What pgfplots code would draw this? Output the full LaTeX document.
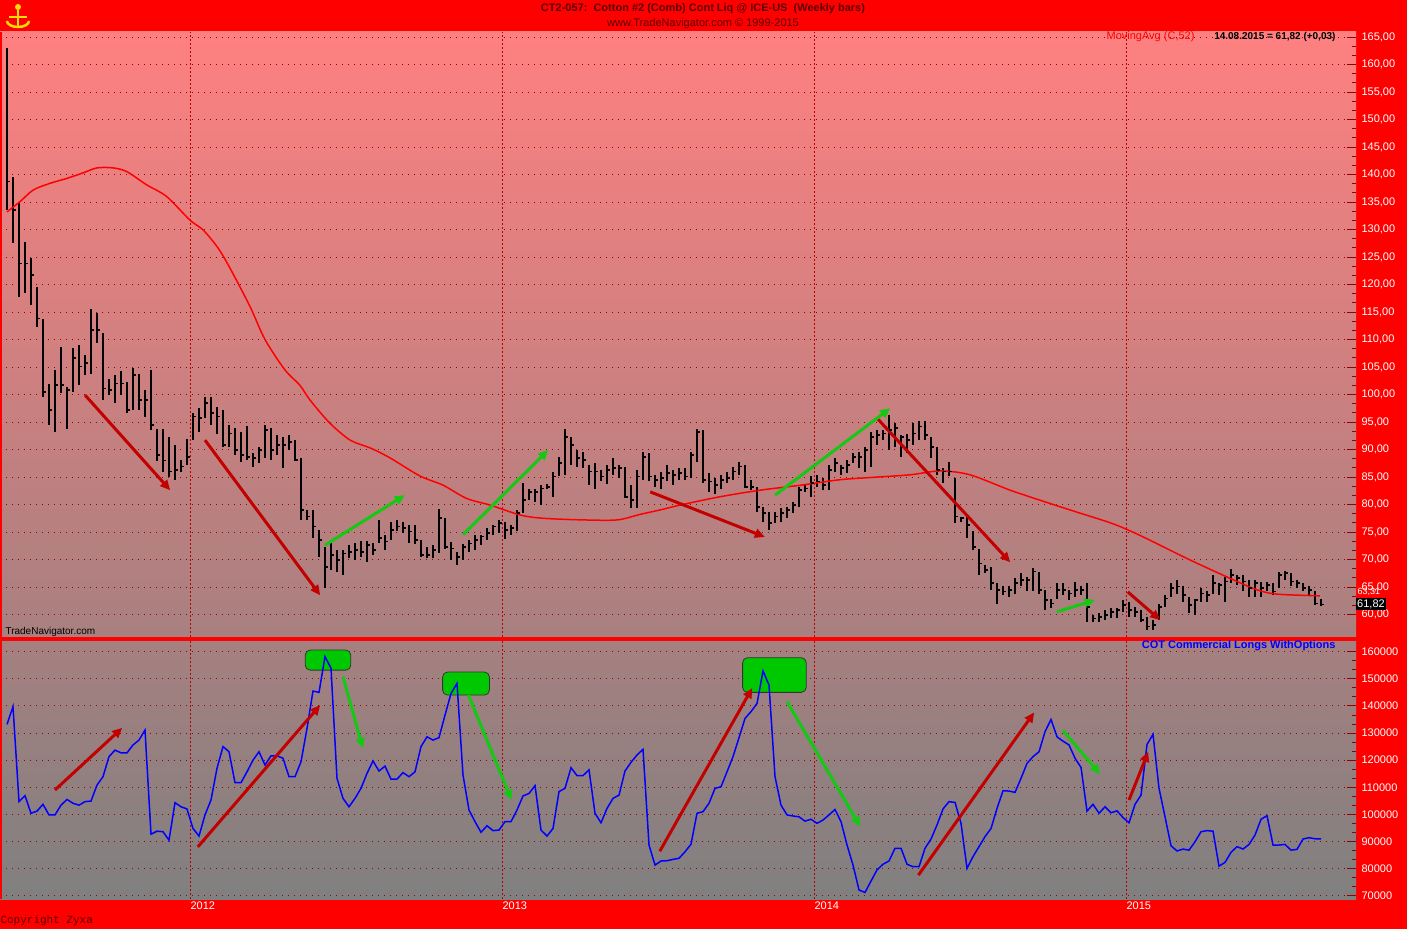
\documentclass[border=0pt]{standalone}
\usepackage{pgfplots}
\usepackage{pgfplotstable}
\pgfplotsset{compat=1.18}
\usetikzlibrary{arrows.meta}
\usepackage{fontspec}
\setmainfont{Liberation Sans}
\newfontfamily\monofont{Liberation Mono}

\definecolor{darkred}{RGB}{150,0,0}
\definecolor{yearred}{RGB}{185,0,0}
\definecolor{arrred}{RGB}{195,0,0}
\definecolor{arrgreen}{RGB}{20,200,20}
\definecolor{boxgreen}{RGB}{0,200,0}
\definecolor{titlecol}{RGB}{90,0,0}

\pgfdeclareplotmark{ctick}{\pgfpathmoveto{\pgfqpoint{-0.3pt}{0pt}}\pgfpathlineto{\pgfqpoint{3pt}{0pt}}\pgfusepathqstroke}

% weekly bars: week index, high, low, close
\pgfplotstableread{
i h l c
0 163.0 133.5 138.7
1 139.6 127.5 133.5
2 134.8 117.8 123.8
3 127.8 118.4 123.8
4 124.8 116.3 121.7
5 119.6 112.3 113.8
6 113.7 99.6 100.5
7 102.0 94.5 97.2
8 104.5 93.2 101.7
9 108.7 100.2 101.7
10 101.4 93.8 100.8
11 108.4 100.5 106.6
12 109.0 101.7 105.1
13 107.2 103.5 105.7
14 115.5 103.8 111.7
15 114.8 109.3 111.7
16 111.1 99.0 101.1
17 102.9 99.9 100.8
18 103.5 98.4 102.0
19 104.2 99.9 102.0
20 102.3 96.6 97.2
21 104.8 97.2 103.5
22 103.8 97.2 99.0
23 100.8 96.0 99.0
24 104.5 93.5 94.5
25 93.8 88.0 89.0
26 93.8 86.0 88.0
27 92.3 85.0 86.0
28 90.8 84.5 86.3
29 88.1 86.0 86.9
30 92.0 87.2 88.7
31 96.6 91.7 96.0
32 97.5 93.2 95.7
33 99.6 95.7 98.4
34 99.6 94.5 96.6
35 97.8 92.9 96.0
36 97.2 90.5 90.8
37 94.5 90.5 92.9
38 93.9 89.0 89.9
39 93.2 87.8 89.0
40 94.2 88.1 88.7
41 89.3 86.9 88.4
42 90.4 87.5 89.9
43 94.5 88.4 93.5
44 93.9 88.1 89.9
45 92.6 89.0 90.8
46 92.3 86.6 90.8
47 92.6 89.9 91.4
48 91.7 88.0 88.1
49 88.4 77.2 79.0
50 79.0 77.2 77.8
51 79.0 73.9 76.0
52 75.4 70.5 73.5
53 72.3 64.8 68.7
54 73.0 68.1 70.8
55 71.7 67.8 69.9
56 71.7 67.2 71.1
57 72.6 70.2 71.4
58 73.0 69.9 71.7
59 73.3 70.5 71.4
60 73.3 69.6 72.6
61 73.0 70.8 71.7
62 77.2 73.0 73.9
63 74.5 71.7 73.3
64 76.9 73.5 75.4
65 77.2 75.1 76.0
66 76.9 74.8 75.7
67 76.3 73.0 75.1
68 76.3 72.9 73.5
69 73.5 70.5 70.8
70 72.3 70.2 70.8
71 72.6 70.2 71.7
72 79.1 71.1 77.5
73 77.5 72.0 72.3
74 73.2 69.9 72.0
75 71.4 69.0 70.5
76 72.9 69.9 72.3
77 73.5 71.4 72.9
78 74.5 71.7 73.5
79 74.5 72.6 74.2
80 75.7 73.5 74.8
81 76.3 74.5 76.0
82 77.2 74.8 76.6
83 76.9 73.8 75.4
84 76.3 74.5 75.7
85 79.0 75.1 78.4
86 84.0 78.4 80.8
87 82.9 80.8 82.3
88 82.9 80.5 82.3
89 83.5 79.9 82.9
90 83.8 82.9 83.2
91 86.0 81.4 85.1
92 88.7 85.1 87.5
93 93.8 85.4 92.3
94 92.3 87.2 90.8
95 89.9 86.9 88.4
96 89.6 86.6 88.1
97 87.2 83.5 86.0
98 87.5 82.9 86.0
99 86.3 84.2 85.1
100 87.2 83.8 86.3
101 88.4 85.4 86.6
102 87.2 84.8 86.6
103 86.9 81.1 81.4
104 83.5 79.3 80.8
105 86.3 79.3 85.1
106 89.6 84.5 88.7
107 89.3 84.2 85.1
108 85.4 83.2 84.5
109 86.0 82.9 84.8
110 87.2 84.2 85.7
111 86.3 83.5 85.4
112 86.6 84.5 85.7
113 86.6 84.5 85.1
114 89.6 84.8 89.0
115 93.7 87.8 93.2
116 93.5 83.9 84.5
117 85.7 82.3 84.2
118 84.8 82.0 83.5
119 85.4 82.9 84.5
120 86.0 83.9 84.8
121 86.9 84.5 86.0
122 87.8 85.4 86.9
123 87.2 83.0 83.2
124 84.5 82.6 83.2
125 83.2 78.7 79.6
126 79.6 76.9 78.4
127 78.7 75.4 76.6
128 78.7 76.6 77.8
129 79.3 76.9 78.4
130 79.6 77.5 79.0
131 80.5 78.4 79.9
132 83.2 79.6 82.6
133 83.5 82.3 82.9
134 85.1 81.4 83.9
135 85.4 83.2 84.2
136 84.8 82.6 83.5
137 87.2 82.6 86.3
138 88.4 86.0 87.5
139 87.2 85.4 86.6
140 88.1 85.7 87.2
141 89.3 87.5 88.7
142 89.6 86.6 88.7
143 90.5 86.0 89.9
144 93.2 86.9 92.3
145 93.5 90.8 92.6
146 93.5 91.7 92.9
147 96.3 89.9 93.5
148 94.8 90.5 93.9
149 92.6 88.7 92.3
150 92.9 89.3 91.7
151 94.8 90.8 92.9
152 95.1 91.7 94.2
153 95.1 91.7 92.6
154 92.3 88.4 90.5
155 90.5 85.4 86.3
156 86.6 83.9 86.0
157 87.8 85.1 86.0
158 84.8 76.6 77.8
159 77.8 76.9 77.5
160 77.8 73.9 76.3
161 75.1 71.7 72.3
162 72.0 67.2 69.3
163 69.0 67.5 68.1
164 68.7 64.5 65.7
165 65.7 62.0 64.5
166 65.1 63.5 64.2
167 65.1 63.2 64.5
168 66.6 63.8 65.7
169 67.5 65.1 66.3
170 66.9 64.2 66.3
171 68.4 64.2 67.8
172 67.8 63.8 64.5
173 64.5 60.8 62.6
174 62.9 61.1 62.0
175 65.7 62.9 64.5
176 65.7 63.5 64.5
177 64.5 62.6 63.8
178 66.0 63.2 64.5
179 65.1 63.5 64.5
180 65.8 58.7 61.4
181 59.9 58.7 59.3
182 60.2 58.7 59.6
183 60.8 59.0 59.9
184 61.1 59.3 60.5
185 61.1 59.3 60.8
186 62.6 60.5 61.7
187 62.3 59.6 60.8
188 61.4 59.6 60.5
189 60.8 58.7 59.0
190 59.6 57.2 57.8
191 59.0 57.2 58.1
192 62.0 59.0 61.4
193 63.5 61.4 62.9
194 65.7 63.2 64.8
195 66.3 63.8 65.1
196 65.1 62.3 63.5
197 63.2 60.2 61.7
198 62.9 59.9 62.6
199 64.8 62.3 63.8
200 64.2 62.3 63.5
201 67.2 63.8 65.7
202 65.7 63.5 65.4
203 66.9 62.3 66.0
204 68.2 65.7 67.2
205 67.2 65.4 66.6
206 67.2 64.2 66.0
207 66.3 63.2 64.8
208 66.3 63.2 65.7
209 66.0 63.2 64.8
210 66.0 64.2 65.4
211 65.7 63.5 64.2
212 67.8 64.8 67.2
213 68.0 66.3 67.5
214 67.5 65.1 66.0
215 66.3 64.8 65.7
216 65.7 64.2 64.8
217 65.1 63.5 64.5
218 64.2 61.7 62.0
219 62.9 61.7 61.8
}\price

% 52-week moving average
\pgfplotstableread{
i ma
0 133.2
2.2 135.1
4.4 137.2
7.2 138.4
10 139.3
12.7 140.3
15 141.2
17.7 141.2
20 140.5
23.3 138.1
26.6 136.0
30.5 131.7
32.7 129.9
35.2 126.6
37.2 122.9
40.5 116.0
43 110.0
46.3 104.5
48.8 101.7
50.5 99.0
53.8 94.8
57.2 91.7
60.5 90.3
63.8 88.5
68.8 85.2
72.7 83.5
76.6 81.1
80.5 79.9
85.5 78.1
89.3 77.5
96 77.2
101.7 77.2
105.5 78.2
108.8 79.0
112.2 79.9
118.8 81.4
125.5 82.6
132.2 83.5
138.8 84.5
143.8 84.9
150.5 85.4
155.5 86.1
160.5 85.4
167.2 82.6
173.8 80.2
177.2 79.0
183.8 76.7
187.2 75.2
190.5 73.5
197.2 69.9
203.8 66.6
208.3 64.5
211.7 63.7
218.8 63.4
}\mavg

% COT commercial longs with options, thousands of contracts
\pgfplotstableread{
i v
0 133.2
1 139.7
2 104.7
3 106.9
4 100.4
5 101.2
6 103.7
7 99.8
8 99.8
9 103.4
10 105.5
11 104.1
12 103.4
13 104.7
14 104.9
15 110.8
16 113.9
17 121.3
18 123.7
19 122.7
20 122.7
21 125.6
22 127.4
23 131.1
24 92.7
25 93.8
26 93.6
27 90.5
28 104.3
29 102.8
30 102.0
31 94.8
32 92.0
33 99.8
34 105.3
35 117.0
36 125.0
37 123.1
38 111.7
39 111.7
40 115.7
41 120.0
42 123.1
43 118.2
44 121.6
45 121.6
46 120.7
47 113.9
48 113.9
49 119.4
50 131.7
51 145.5
52 145.0
53 158.2
54 153.9
55 113.3
56 105.9
57 102.8
58 105.9
59 109.6
60 115.1
61 119.7
62 116.0
63 117.8
64 113.0
65 113.0
66 115.4
67 113.9
68 115.7
69 125.0
70 128.6
71 127.4
72 128.3
73 136.6
74 144.6
75 148.3
76 114.5
77 101.6
78 97.3
79 93.4
80 95.8
81 94.0
82 94.2
83 97.3
84 97.3
85 101.6
86 106.8
87 107.7
88 110.6
89 94.2
90 92.0
91 94.8
92 108.4
93 109.6
94 117.2
95 114.3
96 114.3
97 116.4
98 100.4
99 96.9
100 102.2
101 105.9
102 107.1
103 116.0
104 119.2
105 121.9
106 124.0
107 88.7
108 81.3
109 82.8
110 82.9
111 83.4
112 83.8
113 86.2
114 89.0
115 100.4
116 101.0
117 104.1
118 109.6
119 110.2
120 115.7
121 121.3
122 128.3
123 135.4
124 137.9
125 140.9
126 152.9
127 147.7
128 113.9
129 103.4
130 99.8
131 99.4
132 99.1
133 97.5
134 98.2
135 96.7
136 97.9
137 99.8
138 101.8
139 97.3
140 88.7
141 81.3
142 72.1
143 71.2
144 75.4
145 79.5
146 81.6
147 82.8
148 87.5
149 87.5
150 81.6
151 80.7
152 80.7
153 87.5
154 90.9
155 96.1
156 102.0
157 104.7
158 104.4
159 96.7
160 80.1
161 84.4
162 88.1
163 91.8
164 94.8
165 102.2
166 108.7
167 108.6
168 108.1
169 113.3
170 118.8
171 121.3
172 123.1
173 130.5
174 135.0
175 128.6
176 127.0
177 125.6
178 120.7
179 117.3
180 101.2
181 103.7
182 100.4
183 102.8
184 100.6
185 101.3
186 98.8
187 96.9
188 103.7
189 107.1
190 125.8
191 129.5
192 109.6
193 99.1
194 88.4
195 86.5
196 87.2
197 86.8
198 89.9
199 93.6
200 94.0
201 93.8
202 80.9
203 82.3
204 86.0
205 88.1
206 87.2
207 88.9
208 92.4
209 98.2
210 99.5
211 88.7
212 88.7
213 88.9
214 86.8
215 87.1
216 90.9
217 91.4
218 91.0
219 91.0
}\cot

\pgfplotsset{
  panel/.style={
    scale only axis, width=1356pt,
    xmin=-1.1667, xmax=224.83,
    axis line style={draw=none},
    xtick={30.5,82.5,134.5,186.5},
    xmajorgrids, ymajorgrids,
    x grid style={yearred, line width=0.7pt, dash pattern=on 2pt off 2pt},
    y grid style={darkred, line width=0.9pt, dash pattern=on 0.9pt off 5.1pt},
    xtick style={draw=none},
    ytick pos=right, yticklabel pos=right,
    tick align=inside,
    ytick style={darkred, line width=0.9pt},
    major tick length=9pt, minor tick length=4pt,
    minor y tick num=2,
    yticklabel style={white, font=\fontsize{11}{13}\selectfont, anchor=west, xshift=2pt},
    /pgf/number format/assume math mode=true,
  },
}
\tikzset{arr/.style={line width=3pt, -{Triangle[length=10pt,width=9pt]}}}

\begin{document}
\begin{tikzpicture}
\useasboundingbox (0pt,0pt) rectangle (1407pt,929pt);
\fill[red] (0pt,0pt) rectangle (1407pt,929pt);

% price panel
\begin{axis}[panel, at={(0pt,292pt)}, anchor=south west, height=605pt,
  ymin=55.91, ymax=165.91,
  ytick={60,65,...,165},
  xticklabels={},
  yticklabel style={/pgf/number format/.cd, use comma, fixed, fixed zerofill, precision=2},
  axis background/.style={shade, top color={rgb,255:red,255;green,128;blue,128}, bottom color={rgb,255:red,168;green,128;blue,128}},
]
\addplot[black, only marks, mark=ctick, mark options={line width=1.7pt},
  error bars/.cd, y dir=both, y explicit, error mark=none,
  error bar style={line width=2.1pt, black}]
  table[x=i, y=c, y error plus expr=\thisrow{h}-\thisrow{c}, y error minus expr=\thisrow{c}-\thisrow{l}] {\price};
\addplot[red, line width=1.5pt, smooth] table[x=i, y=ma] {\mavg};
\draw[arr, arrred] (axis cs:13,99.9) -- (axis cs:27.2,82.6);
\draw[arr, arrred] (axis cs:33,91.7) -- (axis cs:52.2,63.5);
\draw[arr, arrred] (axis cs:107.2,82.3) -- (axis cs:126.3,74.1);
\draw[arr, arrred] (axis cs:145,95.7) -- (axis cs:167.2,69.5);
\draw[arr, arrred] (axis cs:186.8,64.1) -- (axis cs:192.2,59);
\draw[arr, arrgreen] (axis cs:53,72.6) -- (axis cs:66.3,81.7);
\draw[arr, arrgreen] (axis cs:76,74.5) -- (axis cs:90.2,89.9);
\draw[arr, arrgreen] (axis cs:128,81.7) -- (axis cs:147.2,97.5);
\draw[arr, arrgreen] (axis cs:175,60.5) -- (axis cs:181.3,62.6);
\end{axis}

% COT panel
\begin{axis}[panel, at={(0pt,30pt)}, anchor=south west, height=258pt,
  ymin=68.78, ymax=163.95,
  ytick={70,80,...,160},
  yticklabels={70000,80000,90000,100000,110000,120000,130000,140000,150000,160000},
  xticklabels={2012,2013,2014,2015},
  xticklabel style={white, font=\fontsize{11}{13}\selectfont, anchor=north west, xshift=-3pt, yshift=1pt},
  axis background/.style={shade, top color={rgb,255:red,166;green,128;blue,128}, bottom color={rgb,255:red,128;green,128;blue,128}},
]
\draw[fill=boxgreen, draw=black!80, line width=0.8pt, rounded corners=5pt] (axis cs:49.7,160.6) rectangle (axis cs:57.3,153.2);
\draw[fill=boxgreen, draw=black!80, line width=0.8pt, rounded corners=5pt] (axis cs:72.6,152.5) rectangle (axis cs:80.4,144);
\draw[fill=boxgreen, draw=black!80, line width=0.8pt, rounded corners=5pt] (axis cs:122.6,157.8) rectangle (axis cs:133.2,145);
\addplot[blue, line width=1.5pt] table[x=i, y=v] {\cot};
\draw[arr, arrred] (axis cs:8,109) -- (axis cs:19.2,131.9);
\draw[arr, arrred] (axis cs:31.8,88) -- (axis cs:52.2,140.3);
\draw[arr, arrred] (axis cs:108.8,86.4) -- (axis cs:124.2,146.6);
\draw[arr, arrred] (axis cs:151.9,77.6) -- (axis cs:171.2,137.6);
\draw[arr, arrred] (axis cs:187,105.3) -- (axis cs:190.2,123.1);
\draw[arr, arrgreen] (axis cs:56,150.8) -- (axis cs:59.3,124.4);
\draw[arr, arrgreen] (axis cs:76.9,144) -- (axis cs:84.1,105.3);
\draw[arr, arrgreen] (axis cs:130,141.6) -- (axis cs:142.2,95.5);
\draw[arr, arrgreen] (axis cs:176,130.9) -- (axis cs:182.2,114.8);
\node[anchor=west, fill=blue, text=white, inner sep=1pt, font=\fontsize{11}{13}\selectfont] at (axis cs:224.83,91.03) {91032};
\end{axis}

% frame and separator
\fill[red] (0pt,288pt) rectangle (1356pt,292pt);
\fill[red] (0pt,30pt) rectangle (2pt,897pt);

% texts
\node[titlecol, font=\fontsize{11}{13}\selectfont\bfseries] at (703pt,920pt) {CT2-057:\ \ Cotton \#2 (Comb) Cont Liq @ ICE-US\ \ (Weekly bars)};
\node[titlecol, font=\fontsize{11}{13}\selectfont] at (703pt,905pt) {www.TradeNavigator.com \textcopyright{} 1999-2015};
\node[anchor=east, text=red, font=\fontsize{11}{13}\selectfont] at (1198pt,892pt) {MovingAvg (C,52)};
\node[anchor=east, text=black, font=\fontsize{10}{12}\selectfont\bfseries] at (1339pt,892pt) {14.08.2015 = 61,82 (+0,03)};
\node[anchor=west, text=black, font=\fontsize{10}{12}\selectfont] at (2pt,297pt) {TradeNavigator.com};
\node[anchor=east, text=blue, font=\fontsize{11}{13}\selectfont\bfseries] at (1339pt,283pt) {COT Commercial Longs WithOptions};
\node[anchor=west, text=white, font=\fontsize{9}{11}\selectfont, inner sep=0.5pt] at (1357pt,337pt) {63,31};
\node[anchor=west, fill=black, text=white, inner sep=1pt, font=\fontsize{11}{13}\selectfont] at (1356pt,325pt) {61,82};
\node[anchor=west, text=titlecol, font=\fontsize{11}{13}\selectfont\monofont] at (-3pt,8pt) {Copyright Zyxa};

% logo
\fill[yellow!80!orange] (18pt,922pt) circle (3pt);
\draw[yellow!80!orange, line width=2.5pt] (18pt,919pt) -- (18pt,902pt) (9pt,912pt) -- (27pt,912pt);
\draw[yellow!80!orange, line width=2.5pt] (7pt,908pt) arc (180:360:11pt and 6pt);
\end{tikzpicture}
\end{document}
